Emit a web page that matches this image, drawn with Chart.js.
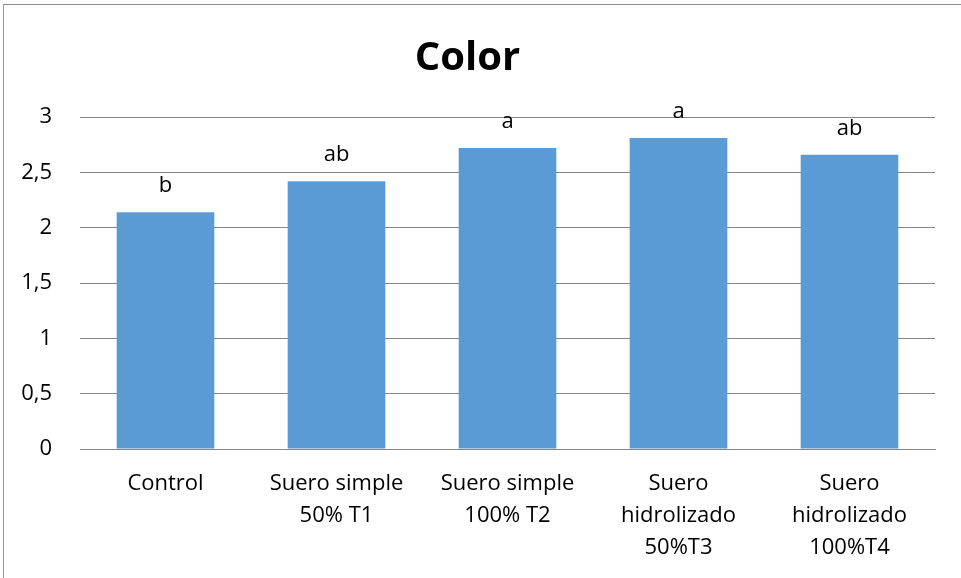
<!DOCTYPE html>
<html>
<head>
<meta charset="utf-8">
<script src="https://cdn.jsdelivr.net/npm/chart.js@4/dist/chart.umd.min.js"></script>
<style>
  html, body { margin: 0; padding: 0; background: #fff; }
  #wrap { position: relative; width: 961px; height: 578px; overflow: hidden; }
  #frame { position: absolute; left: 3px; top: 4px; width: 980px; height: 600px;
           border-left: 1px solid #9a9a9a; border-top: 1px solid #8a8a8a; box-sizing: border-box; }
  canvas { position: absolute; left: 0; top: 0; }
</style>
</head>
<body>
<div id="wrap">
  <div id="frame"></div>
  <canvas id="c" width="961" height="578"></canvas>
</div>
<script>
// Category labels (multi-line), mean scores and significance letters
const categories = [
  ["Control"],
  ["Suero simple", "50% T1"],
  ["Suero simple", "100% T2"],
  ["Suero", "hidrolizado", "50%T3"],
  ["Suero", "hidrolizado", "100%T4"]
];
const colorScores = [2.14, 2.42, 2.72, 2.81, 2.66];
const letters = ["b", "ab", "a", "a", "ab"];
const yTicks = [0, 0.5, 1, 1.5, 2, 2.5, 3];

const FONT = "'Open Sans', 'Liberation Sans', sans-serif";

// Writes the significance letter above each bar
const letterLabels = {
  id: 'letterLabels',
  afterDatasetsDraw(chart) {
    const ctx = chart.ctx;
    const meta = chart.getDatasetMeta(0);
    ctx.save();
    ctx.font = "22px " + FONT;
    ctx.fillStyle = "#000";
    ctx.textAlign = "center";
    ctx.textBaseline = "middle";
    meta.data.forEach((bar, i) => {
      ctx.fillText(letters[i], bar.x, bar.y - 26);
    });
    ctx.restore();
  }
};

new Chart(document.getElementById('c'), {
  type: 'bar',
  data: {
    labels: categories,
    datasets: [{
      label: 'Color',
      data: colorScores,
      backgroundColor: '#5B9BD5',
      borderWidth: 0,
      categoryPercentage: 1.0,
      barPercentage: 0.571
    }]
  },
  options: {
    responsive: false,
    animation: false,
    devicePixelRatio: 1,
    layout: { padding: { left: 0, right: 26, top: 0, bottom: 14 } },
    plugins: {
      legend: { display: false },
      tooltip: { enabled: false },
      title: {
        display: true,
        text: 'Color',
        color: '#000',
        font: { family: FONT, size: 40, weight: 'bold', lineHeight: 1.2 },
        padding: { top: 35, bottom: 34 }
      }
    },
    scales: {
      x: {
        afterFit(scale) { scale.height -= 19; },
        grid: { display: false, drawTicks: false },
        border: { display: true, color: '#868686', width: 1 },
        ticks: {
          color: '#000',
          font: { family: FONT, size: 22, lineHeight: 32 / 22 },
          padding: 19,
          maxRotation: 0,
          autoSkip: false
        }
      },
      y: {
        min: 0,
        max: 3,
        afterBuildTicks(scale) {
          scale.ticks = yTicks.map(v => ({ value: v }));
        },
        afterFit(scale) { scale.width = 80; },
        grid: { color: '#868686', lineWidth: 1, drawTicks: false },
        border: { display: false },
        ticks: {
          color: '#000',
          font: { family: FONT, size: 22 },
          padding: 28,
          callback: v => String(v).replace('.', ',')
        }
      }
    }
  },
  plugins: [letterLabels]
});
</script>
</body>
</html>
